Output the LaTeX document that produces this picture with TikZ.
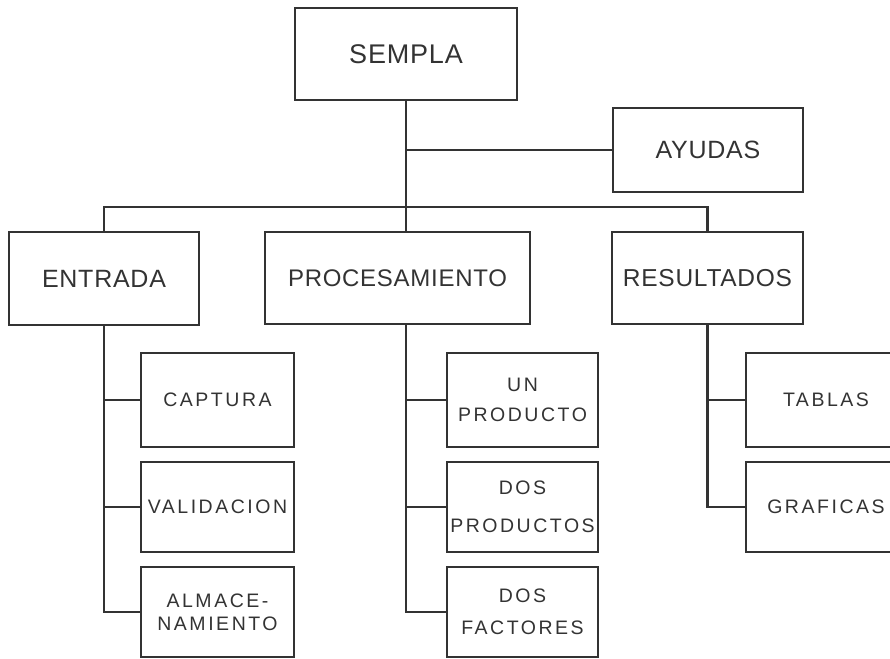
\documentclass[tikz,border=0pt]{standalone}
\usepackage{fontspec}
\setmainfont{Liberation Sans}
\newfontfamily\lblfont[LetterSpace=3]{Liberation Sans}
\newfontfamily\leaffont[LetterSpace=13]{Liberation Sans}
\definecolor{ink}{HTML}{333333}
\tikzset{
  box/.style={draw=ink, line width=2.3pt, inner sep=0pt, align=center, text=ink},
  topbox/.style={box, font=\lblfont\fontsize{25}{30}\selectfont},
  leafbox/.style={box, font=\leaffont\fontsize{19.5}{30}\selectfont, minimum width=153pt},
  wire/.style={draw=ink, line width=2.3pt}
}
\begin{document}
\begin{tikzpicture}[x=1pt,y=-1pt]
\useasboundingbox (0,0) rectangle (890,658);
\begin{scope}
\clip (0,0) rectangle (890,658);
\node[topbox, font=\lblfont\fontsize{27}{30}\selectfont, minimum width=222pt, minimum height=92pt] (sempla) at (406,54) {SEMPLA};
\node[topbox, minimum width=190pt, minimum height=84pt] (ayudas) at (708,150) {AYUDAS};
\node[topbox, minimum width=190pt, minimum height=93pt] (entrada) at (104,278.5) {ENTRADA};
\node[topbox, font=\lblfont\fontsize{24}{30}\selectfont, minimum width=265pt, minimum height=92pt] (proc) at (397.5,278) {PROCESAMIENTO};
\node[topbox, font=\lblfont\fontsize{24.5}{30}\selectfont, minimum width=191pt, minimum height=92pt] (result) at (707.5,278) {RESULTADOS};

\node[leafbox, minimum height=94pt] (captura) at (217.5,400) {CAPTURA};
\node[leafbox, minimum height=90pt] (valid) at (217.5,507) {VALIDACION};
\node[leafbox, minimum height=90pt] (almac) at (217.5,612) {ALMACE-\\[-7pt]NAMIENTO};

\node[leafbox, minimum width=151pt, minimum height=94pt] (unprod) at (522.5,400) {UN\\[0pt]PRODUCTO};
\node[leafbox, minimum width=151pt, minimum height=90pt] (dosprod) at (522.5,507) {DOS\\[8pt]PRODUCTOS};
\node[leafbox, minimum width=151pt, minimum height=90pt] (dosfact) at (522.5,612) {DOS\\[2pt]FACTORES};

\node[leafbox, minimum width=160pt, minimum height=94pt] (tablas) at (826,400) {TABLAS};
\node[leafbox, minimum width=160pt, minimum height=90pt] (graficas) at (826,507) {GRAFICAS};

\coordinate (bus) at (sempla.south |- 0,207);
\coordinate (ptrunk) at (sempla.south |- proc.south);

\draw[wire] (sempla.south) -- (sempla.south |- proc.north);
\draw[wire] (ayudas.west) -- (ayudas.west -| sempla.south);
\draw[wire] (entrada.north) |- (bus) -| (result.north);

\draw[wire] (entrada.south) |- (almac.west);
\draw[wire] (captura.west) -- (captura.west -| entrada.south);
\draw[wire] (valid.west) -- (valid.west -| entrada.south);

\draw[wire] (ptrunk) |- (dosfact.west);
\draw[wire] (unprod.west) -- (unprod.west -| ptrunk);
\draw[wire] (dosprod.west) -- (dosprod.west -| ptrunk);

\draw[wire] (result.south) |- (graficas.west);
\draw[wire] (tablas.west) -- (tablas.west -| result.south);
\end{scope}
\end{tikzpicture}
\end{document}
